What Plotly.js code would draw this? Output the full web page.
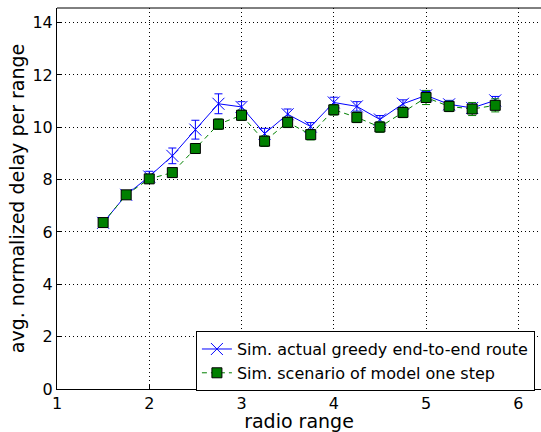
<!DOCTYPE html>
<html>
<head>
<meta charset="utf-8">
<script src="https://cdn.plot.ly/plotly-3.0.1.min.js"></script>
<style>html,body{margin:0;padding:0;background:#fff;}#chart{width:541px;height:432px;}</style>
</head>
<body>
<div id="chart"></div>
<script>
const radioRange = [1.5, 1.75, 2, 2.25, 2.5, 2.75, 3, 3.25, 3.5, 3.75, 4, 4.25, 4.5, 4.75, 5, 5.25, 5.5, 5.75];
const greedyDelay = [6.35, 7.42, 8.12, 8.91, 9.91, 10.9, 10.78, 9.76, 10.5, 10.03, 10.95, 10.8, 10.3, 10.9, 11.22, 10.88, 10.74, 11.03];
const greedyErr   = [0.08, 0.1, 0.2, 0.3, 0.36, 0.38, 0.2, 0.2, 0.2, 0.15, 0.2, 0.18, 0.15, 0.15, 0.15, 0.15, 0.15, 0.15];
const modelDelay  = [6.36, 7.42, 8.03, 8.27, 9.19, 10.12, 10.46, 9.47, 10.19, 9.72, 10.67, 10.38, 10.01, 10.57, 11.14, 10.8, 10.7, 10.84];
const modelErr    = [0.1, 0.12, 0.15, 0.15, 0.18, 0.2, 0.2, 0.2, 0.2, 0.2, 0.2, 0.2, 0.2, 0.2, 0.27, 0.2, 0.25, 0.25];
const xTicks = [1, 2, 3, 4, 5, 6];
const yTicks = [0, 2, 4, 6, 8, 10, 12, 14];
const seriesNames = ["Sim. actual greedy end-to-end route", "Sim. scenario of model one step"];

const traces = [
  {
    x: radioRange, y: greedyDelay, name: seriesNames[0], type: 'scatter', mode: 'lines+markers',
    line: {color: '#0000ff', width: 1},
    marker: {symbol: 'x-thin', size: 12, color: '#0000ff', line: {color: '#0000ff', width: 1}},
    error_y: {type: 'data', array: greedyErr, visible: true, color: '#0000ff', thickness: 1, width: 4}
  },
  {
    x: radioRange, y: modelDelay, name: seriesNames[1], type: 'scatter', mode: 'lines+markers',
    line: {color: '#008000', width: 1, dash: '5px,4px'},
    marker: {symbol: 'square', size: 10, color: '#008000', line: {color: '#000000', width: 1}},
    error_y: {type: 'data', array: modelErr, visible: true, color: '#008000', thickness: 1, width: 4}
  }
];

const layout = {
  width: 541, height: 432,
  margin: {l: 57, r: 0, t: 8, b: 43},
  paper_bgcolor: '#ffffff', plot_bgcolor: '#ffffff',
  font: {family: 'DejaVu Sans', color: '#000000', size: 16},
  showlegend: true,
  legend: {
    x: 0.287, y: 0.152, xanchor: 'left', yanchor: 'top',
    bgcolor: '#ffffff', bordercolor: '#000000', borderwidth: 1,
    font: {family: 'DejaVu Sans', size: 16, color: '#000000'},
    tracegroupgap: 0
  },
  xaxis: {
    range: [1, 6.246], tickvals: xTicks, ticktext: xTicks.map(String),
    ticks: 'inside', ticklen: 5, tickcolor: '#000', showline: true, linecolor: '#000', linewidth: 1,
    showgrid: true, gridcolor: '#000', griddash: '1px,3px', gridwidth: 1, zeroline: false,
    tickfont: {family: 'DejaVu Sans', size: 16},
    title: {text: 'radio range', font: {family: 'DejaVu Sans', size: 19}, standoff: 0}
  },
  yaxis: {
    range: [0, 14.56], tickvals: yTicks, ticktext: yTicks.map(String),
    ticks: 'inside', ticklen: 5, tickcolor: '#000', showline: true, linecolor: '#000', linewidth: 1,
    showgrid: true, gridcolor: '#000', griddash: '1px,3px', gridwidth: 1, zeroline: false,
    tickfont: {family: 'DejaVu Sans', size: 16},
    title: {text: 'avg. normalized delay per range', font: {family: 'DejaVu Sans', size: 19}, standoff: 2}
  },
  shapes: [
    {type: 'line', xref: 'paper', yref: 'paper', x0: 0, x1: 1, y0: 1, y1: 1, line: {color: '#000', width: 1}}
  ]
};

Plotly.newPlot('chart', traces, layout, {displayModeBar: false, staticPlot: true});
</script>
</body>
</html>
